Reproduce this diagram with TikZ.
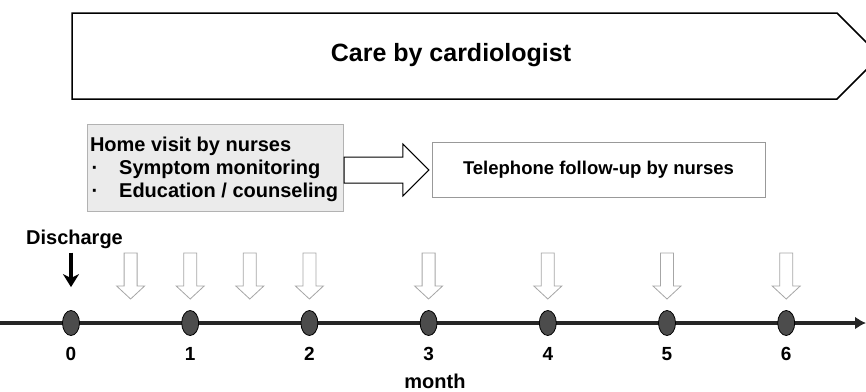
\documentclass[tikz,border=0pt]{standalone}
\usepackage{fontspec}
\setmainfont{Liberation Sans}
\usetikzlibrary{shapes, arrows, arrows.meta, calc}

\begin{document}
\begin{tikzpicture}[x=1pt, y=-1pt, >=latex',
  txt/.style={font=\fontsize{20}{23}\selectfont\bfseries, inner sep=0pt},
  hollow/.style={draw=black!35, fill=white, line width=0.8pt},
  dot/.style={ellipse, draw=black, fill=black!70, line width=0.8pt,
    minimum width=17pt, minimum height=25pt, inner sep=0pt}]
\useasboundingbox (0,0) rectangle (866,391);
% cardiologist band, its tip runs off the page
\begin{scope}
\clip (0,0) rectangle (866,391);
\draw[line width=1.5pt] (72,13) -- (837,13) -- (880,56) -- (837,99) -- (72,99) -- cycle;
\end{scope}
\node[txt, font=\fontsize{25}{30}\selectfont\bfseries] at (451,55) (care) {Care by cardiologist};

% nurses
\node[draw=black!30, fill=black!8, minimum width=256pt, minimum height=87pt]
  at (215,167.5) (home) {};
\node[txt, align=left, anchor=north west] at ($(home.north west)+(3,13.4)$) (homeTxt)
  {Home visit by nurses\\
   \hspace{1.5pt}·\hspace{21pt}Symptom monitoring\\
   \hspace{1.5pt}·\hspace{21pt}Education / counseling};
\node[draw=black!40, fill=white, minimum width=333pt, minimum height=55pt,
  txt, font=\fontsize{18.5}{22}\selectfont\bfseries] at (598.5,169.5) (tel)
  {Telephone follow-up by nurses};
\coordinate (bs) at ($(home.east)+(1,2.5)$);
\coordinate (bt) at ($(tel.west)+(-3,0.5)$);
\draw[line width=1pt, fill=white] ($(bs)+(0,-13)$) -- ($(bt)+(-26,-13)$)
  -- ($(bt)+(-26,-26)$) -- (bt) -- ($(bt)+(-26,26)$) -- ($(bt)+(-26,13)$)
  -- ($(bs)+(0,13)$) -- cycle;

% time axis
\coordinate (axL) at (0,323);
\coordinate (axR) at (866,323);
\draw[-{Latex[length=11pt,width=13pt]}, line width=4pt, black!85] (axL) -- (axR);
\foreach \m in {0,...,6} {
  \node[dot] at ({71+119.2*\m},323) (m\m) {};
  \node[txt, font=\fontsize{19}{22}\selectfont\bfseries] at ($(m\m)+(0,31)$) (lbl\m) {\m};
}
\node[txt] at (435,381) (month) {month};

% contacts
\foreach \m in {0.5,1,1.5,2,3,4,5,6}
  \draw[hollow] ({71+119.2*\m-6.5},253) -- ++(13,0) -- ++(0,33) -- ++(7.5,0)
    -- ++(-14,13) -- ++(-14,-13) -- ++(7.5,0) -- cycle;

\node[txt] at (74.5,239) (dis) {Discharge};
\draw[-{Stealth[length=13pt,width=16pt,inset=4pt]}, line width=3.5pt]
  ($(dis.south -| m0)+(0,4)$) -- ($(m0.north)+(0,-23)$);
\end{tikzpicture}
\end{document}
